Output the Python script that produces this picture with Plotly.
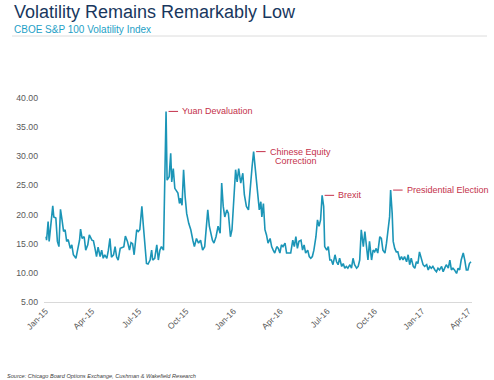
import plotly.graph_objects as go

# ---- data ----
dates = [
    "2015-01-02", "2015-01-03", "2015-01-06", "2015-01-08", "2015-01-15", "2015-01-17", "2015-01-21",
    "2015-01-24", "2015-01-27", "2015-01-30", "2015-02-02", "2015-02-05", "2015-02-08", "2015-02-11",
    "2015-02-14", "2015-02-18", "2015-02-21", "2015-02-24", "2015-03-01", "2015-03-04", "2015-03-08",
    "2015-03-10", "2015-03-13", "2015-03-17", "2015-03-20", "2015-03-24", "2015-03-27", "2015-04-01",
    "2015-04-04", "2015-04-07", "2015-04-10", "2015-04-13", "2015-04-17", "2015-04-20", "2015-04-23",
    "2015-04-26", "2015-04-30", "2015-05-03", "2015-05-06", "2015-05-09", "2015-05-13", "2015-05-16",
    "2015-05-19", "2015-05-22", "2015-05-26", "2015-05-31", "2015-06-02", "2015-06-05", "2015-06-09",
    "2015-06-13", "2015-06-16", "2015-06-19", "2015-06-22", "2015-06-27", "2015-06-30", "2015-07-03",
    "2015-07-07", "2015-07-10", "2015-07-13", "2015-07-16", "2015-07-19", "2015-07-23", "2015-07-26",
    "2015-07-28", "2015-08-01", "2015-08-05", "2015-08-08", "2015-08-11", "2015-08-14", "2015-08-18",
    "2015-08-23", "2015-08-25", "2015-08-29", "2015-09-01", "2015-09-03", "2015-09-06", "2015-09-09",
    "2015-09-11", "2015-09-15", "2015-09-18", "2015-09-20", "2015-09-23", "2015-09-26", "2015-09-29",
    "2015-10-02", "2015-10-06", "2015-10-10", "2015-10-14", "2015-10-17", "2015-10-21", "2015-10-25",
    "2015-10-29", "2015-11-02", "2015-11-06", "2015-11-12", "2015-11-15", "2015-11-18", "2015-11-21",
    "2015-11-24", "2015-11-28", "2015-12-02", "2015-12-06", "2015-12-09", "2015-12-12", "2015-12-15",
    "2015-12-19", "2015-12-22", "2015-12-26", "2015-12-29", "2016-01-02", "2016-01-05", "2016-01-08",
    "2016-01-11", "2016-01-15", "2016-01-19", "2016-01-22", "2016-01-26", "2016-01-30", "2016-02-03",
    "2016-02-06", "2016-02-09", "2016-02-13", "2016-02-16", "2016-02-20", "2016-02-23", "2016-02-25",
    "2016-02-28", "2016-03-02", "2016-03-05", "2016-03-08", "2016-03-12", "2016-03-15", "2016-03-18",
    "2016-03-21", "2016-03-25", "2016-03-28", "2016-03-31", "2016-04-03", "2016-04-06", "2016-04-10",
    "2016-04-13", "2016-04-16", "2016-04-21", "2016-04-25", "2016-04-28", "2016-05-01", "2016-05-04",
    "2016-05-07", "2016-05-11", "2016-05-14", "2016-05-17", "2016-05-20", "2016-05-24", "2016-05-27",
    "2016-05-30", "2016-06-02", "2016-06-05", "2016-06-09", "2016-06-12", "2016-06-15", "2016-06-18",
    "2016-06-21", "2016-06-24", "2016-06-26", "2016-06-30", "2016-07-03", "2016-07-06", "2016-07-09",
    "2016-07-12", "2016-07-16", "2016-07-19", "2016-07-22", "2016-07-25", "2016-07-29", "2016-08-01",
    "2016-08-04", "2016-08-07", "2016-08-10", "2016-08-14", "2016-08-17", "2016-08-20", "2016-08-23",
    "2016-08-27", "2016-08-30", "2016-09-02", "2016-09-05", "2016-09-09", "2016-09-12", "2016-09-15",
    "2016-09-18", "2016-09-21", "2016-09-25", "2016-09-28", "2016-10-01", "2016-10-04", "2016-10-07",
    "2016-10-11", "2016-10-14", "2016-10-17", "2016-10-21", "2016-10-24", "2016-10-27", "2016-10-30",
    "2016-11-01", "2016-11-04", "2016-11-06", "2016-11-09", "2016-11-12", "2016-11-15", "2016-11-19",
    "2016-11-22", "2016-11-25", "2016-11-28", "2016-12-02", "2016-12-05", "2016-12-08", "2016-12-11",
    "2016-12-15", "2016-12-18", "2016-12-21", "2016-12-24", "2016-12-27", "2016-12-31", "2017-01-03",
    "2017-01-06", "2017-01-10", "2017-01-13", "2017-01-16", "2017-01-19", "2017-01-22", "2017-01-26",
    "2017-01-29", "2017-02-01", "2017-02-04", "2017-02-08", "2017-02-11", "2017-02-14", "2017-02-17",
    "2017-02-21", "2017-02-24", "2017-02-27", "2017-03-02", "2017-03-05", "2017-03-09", "2017-03-12",
    "2017-03-15", "2017-03-18", "2017-03-22", "2017-03-25", "2017-03-28", "2017-03-31", "2017-04-03",
    "2017-04-06",
]

vxo = [
    16.2, 15.6, 18.8, 15.4, 21.5, 19.6, 19.4,
    15.4, 14.5, 20.9, 19.1, 17.1, 17.4, 15.4,
    15.7, 14.2, 14.8, 13.1, 12.5, 13.9, 15.6,
    17.5, 15.9, 16.2, 13.9, 14.8, 16.5, 15.6,
    15.5, 14.2, 12.8, 14.4, 12.8, 13.9, 12.5,
    13.1, 12.5, 13.9, 15.9, 12.7, 13.1, 14.5,
    12.7, 12.2, 14.2, 14.4, 14.5, 16.3, 15.4,
    13.9, 15.2, 15.0, 13.1, 17.4, 17.1, 17.4,
    21.4, 18.0, 15.4, 11.6, 11.5, 12.2, 13.9,
    12.2, 12.5, 14.8, 12.2, 13.9, 14.5, 13.9,
    37.7, 25.9, 26.5, 30.5, 25.6, 27.9, 24.5,
    24.2, 23.7, 21.9, 22.8, 21.6, 27.7, 23.1,
    20.2, 18.5, 17.4, 15.6, 14.5, 15.9, 15.1,
    15.6, 13.9, 14.5, 20.8, 18.0, 16.8, 15.6,
    15.1, 16.2, 18.0, 16.8, 25.4, 21.4, 19.6,
    20.8, 20.2, 16.2, 17.4, 22.5, 27.7, 25.6,
    27.9, 25.4, 27.1, 23.4, 21.4, 20.8, 25.9,
    28.2, 30.8, 27.1, 24.2, 20.8, 22.2, 19.6,
    21.9, 17.4, 16.5, 15.1, 15.9, 14.5, 13.9,
    13.4, 14.5, 14.2, 13.4, 14.8, 14.5, 15.1,
    13.4, 13.4, 13.4, 15.6, 14.5, 16.2, 14.2,
    15.4, 15.6, 13.9, 14.8, 13.4, 13.9, 12.8,
    12.5, 12.8, 13.9, 16.2, 19.1, 18.0, 19.1,
    23.3, 21.4, 14.5, 13.9, 14.5, 12.2, 12.2,
    11.4, 13.1, 11.9, 11.4, 12.5, 11.1, 11.6,
    10.8, 11.1, 10.8, 11.4, 10.8, 12.5, 11.4,
    10.8, 11.1, 12.2, 17.4, 14.5, 17.1, 13.9,
    12.2, 15.4, 12.2, 13.9, 13.6, 14.2, 13.4,
    16.2, 15.9, 13.9, 13.4, 15.1, 18.0, 19.6,
    24.2, 20.2, 15.4, 14.2, 13.6, 13.6, 12.2,
    12.8, 12.2, 12.8, 11.9, 13.1, 11.4, 12.5,
    11.1, 10.8, 11.9, 11.6, 13.6, 12.2, 11.4,
    11.1, 11.4, 10.5, 11.1, 10.8, 11.1, 10.5,
    10.2, 10.8, 10.5, 11.1, 10.2, 10.8, 11.4,
    10.8, 12.2, 10.5, 10.8, 10.5, 9.9, 10.8,
    10.5, 12.2, 13.4, 12.2, 10.5, 10.5, 11.6,
    11.9,
]

tick_dates = ["2015-01-01", "2015-04-01", "2015-07-01", "2015-10-01", "2016-01-01",
              "2016-04-01", "2016-07-01", "2016-10-01", "2017-01-01", "2017-04-01"]
tick_labels = ["Jan-15", "Apr-15", "Jul-15", "Oct-15", "Jan-16",
               "Apr-16", "Jul-16", "Oct-16", "Jan-17", "Apr-17"]
y_ticks = [5, 10, 15, 20, 25, 30, 35, 40]

event_dates = ["2015-08-23", "2016-02-09", "2016-06-21", "2016-11-01"]
event_labels = ["Yuan Devaluation", "Chinese Equity", "Brexit", "Presidential Election"]
event_sublabels = ["", "Correction", "", ""]

# ---- layout geometry (pixels) ----
W, H = 494, 380
ML, MR, MT, MB = 44, 22, 98, 78
PW, PH = W - ML - MR, H - MT - MB


def px_x(px):
    return (px - ML) / PW


def px_y(py):
    return (H - MB - py) / PH


FONT = "Arial, 'Liberation Sans', sans-serif"
LINE_COLOR = "#1b95b7"
RED = "#c4314b"

fig = go.Figure()
fig.add_trace(go.Scatter(
    x=dates, y=vxo, mode="lines",
    line=dict(color=LINE_COLOR, width=1.6),
    hoverinfo="x+y", showlegend=False,
))

annotations = [
    dict(text="Volatility Remains Remarkably Low", xref="paper", yref="paper",
         x=px_x(12), y=px_y(12.5), xanchor="left", yanchor="middle", showarrow=False,
         font=dict(family=FONT, size=18, color="#18375e")),
    dict(text="CBOE S&P 100 Volatility Index", xref="paper", yref="paper",
         x=px_x(12), y=px_y(29), xanchor="left", yanchor="middle", showarrow=False,
         font=dict(family=FONT, size=10, color="#1ea0c6")),
    dict(text="<i>Source: Chicago Board Options Exchange, Cushman & Wakefield Research</i>",
         xref="paper", yref="paper", x=px_x(5), y=px_y(376), xanchor="left", yanchor="middle",
         showarrow=False, font=dict(family=FONT, size=5.6, color="#404040")),
]

for d, lab, sub in zip(event_dates, event_labels, event_sublabels):
    yv = vxo[dates.index(d)]
    annotations.append(dict(
        x=d, y=yv, xref="x", yref="y", text=lab, showarrow=True,
        ax=12, ay=0, xanchor="left", yanchor="middle",
        arrowhead=0, arrowwidth=1, arrowcolor=RED, standoff=2.5, borderpad=3,
        font=dict(family=FONT, size=9, color=RED),
    ))
    if sub:
        annotations.append(dict(
            x=d, y=yv, xref="x", yref="y", text=sub, showarrow=False,
            xanchor="center", yanchor="middle", xshift=42, yshift=-9,
            font=dict(family=FONT, size=9, color=RED),
        ))

fig.update_layout(
    width=W, height=H,
    margin=dict(l=ML, r=MR, t=MT, b=MB, pad=0),
    paper_bgcolor="white", plot_bgcolor="white",
    font=dict(family=FONT, color="#595959"),
    annotations=annotations,
    shapes=[dict(type="line", xref="paper", yref="paper",
                 x0=px_x(12), x1=px_x(487), y0=px_y(36), y1=px_y(36),
                 line=dict(color="#dcdcdc", width=1))],
    xaxis=dict(
        type="date", range=["2014-12-29", "2017-04-08"],
        tickvals=tick_dates, ticktext=tick_labels, tickangle=-45,
        tickfont=dict(family=FONT, size=8.5, color="#595959"),
        showgrid=False, zeroline=False, showline=True, linecolor="#d9d9d9", linewidth=1,
        ticks="",
    ),
    yaxis=dict(
        range=[5, 40], tickvals=y_ticks, tickformat=".2f",
        tickfont=dict(family=FONT, size=8.7, color="#595959"),
        showgrid=False, zeroline=False, showline=False, ticks="",
        ticklabelstandoff=5,
    ),
)

fig.write_html("out.html", config={"displayModeBar": False},
               post_script="document.body.style.margin='0';")
